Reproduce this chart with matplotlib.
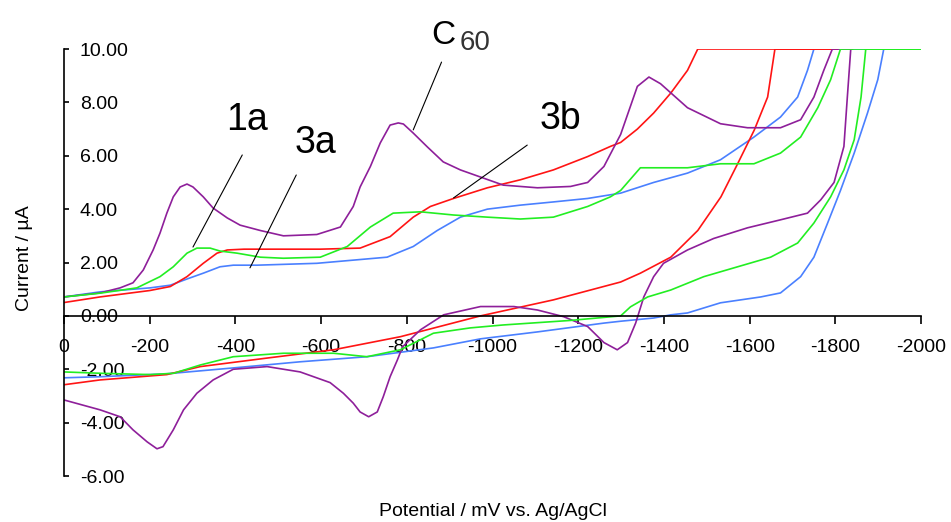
import matplotlib
matplotlib.use("Agg")
import matplotlib.pyplot as plt

plt.rcParams["font.family"] = ["Liberation Sans", "DejaVu Sans"]

# C60 (purple) - forward scan then return scan, current clipped at 10 uA
c60_fwd_E = [0, -84, -131, -161, -185, -208, -224, -240, -255, -271, -287, -301, -325, -348,
             -381, -411, -458, -512, -590, -645, -675, -691, -715, -738, -761, -780, -792,
             -815, -848, -885, -925, -1025, -1105, -1182, -1222, -1260, -1299, -1338, -1365,
             -1392, -1455, -1532, -1595, -1672, -1719, -1750, -1773, -1793, -1840]
c60_fwd_I = [0.71, 0.86, 1.05, 1.24, 1.72, 2.47, 3.1, 3.85, 4.46, 4.83, 4.94, 4.83, 4.46, 4.04,
             3.67, 3.4, 3.2, 3.0, 3.05, 3.33, 4.1, 4.83, 5.6, 6.48, 7.15, 7.23, 7.19,
             6.85, 6.33, 5.77, 5.47, 4.9, 4.8, 4.85, 5.0, 5.6, 6.8, 8.6, 8.95,
             8.7, 7.8, 7.2, 7.05, 7.05, 7.35, 8.2, 9.2, 10, 10]
c60_rev_E = [-1840, -1836, -1828, -1820, -1797, -1766, -1735, -1672, -1595, -1516, -1455, -1399,
             -1376, -1353, -1334, -1315, -1291, -1260, -1222, -1166, -1105, -1050, -972, -886,
             -832, -790, -778, -761, -745, -731, -711, -691, -675, -652, -621, -551, -474,
             -395, -348, -310, -279, -255, -231, -217, -194, -161, -131, -84, 0]
c60_rev_I = [10, 10, 8.2, 6.35, 5.0, 4.35, 3.85, 3.6, 3.3, 2.9, 2.47, 1.97,
             1.47, 0.71, -0.27, -1.0, -1.27, -1.0, -0.4, -0.03, 0.22, 0.35, 0.35, 0.04,
             -0.52, -1.16, -1.65, -2.28, -3.03, -3.6, -3.78, -3.6, -3.27, -2.9, -2.5, -2.1, -1.9,
             -2.0, -2.4, -2.9, -3.52, -4.27, -4.9, -4.98, -4.72, -4.27, -3.78, -3.52, -3.15]

# 1a (green)
g1a_fwd_E = [0, -84, -170, -224, -255, -287, -310, -341, -364, -404, -458, -512, -598, -661,
             -715, -768, -832, -909, -988, -1065, -1142, -1222, -1275, -1299, -1345, -1455,
             -1532, -1610, -1672, -1719, -1759, -1789, -1812, -2000]
g1a_fwd_I = [0.71, 0.85, 1.05, 1.47, 1.84, 2.35, 2.54, 2.54, 2.43, 2.35, 2.2, 2.16, 2.2, 2.6,
             3.33, 3.85, 3.9, 3.78, 3.7, 3.63, 3.7, 4.1, 4.46, 4.7, 5.55, 5.55,
             5.7, 5.7, 6.1, 6.7, 7.8, 8.85, 10, 10]
g1a_rev_E = [-2000, -1871, -1860, -1844, -1820, -1789, -1750, -1712, -1649, -1572, -1493, -1416,
             -1362, -1322, -1299, -1182, -1025, -948, -862, -785, -707, -629, -512, -395,
             -318, -256, -201, -84, 0]
g1a_rev_I = [10, 10, 8.2, 6.6, 5.47, 4.46, 3.48, 2.73, 2.2, 1.84, 1.47, 0.97,
             0.71, 0.34, 0.0, -0.17, -0.34, -0.45, -0.65, -1.27, -1.53, -1.4, -1.4, -1.53,
             -1.84, -2.15, -2.2, -2.15, -2.1]

# 3a (blue)
b3a_fwd_E = [0, -84, -201, -248, -290, -325, -364, -395, -450, -590, -754, -815, -871, -925,
             -988, -1065, -1142, -1222, -1299, -1376, -1455, -1532, -1610, -1672, -1712, -1735,
             -1750, -1913]
b3a_fwd_I = [0.71, 0.9, 1.05, 1.15, 1.4, 1.6, 1.84, 1.9, 1.9, 1.97, 2.2, 2.6, 3.2, 3.7,
             4.0, 4.15, 4.27, 4.4, 4.6, 5.0, 5.35, 5.85, 6.7, 7.45, 8.2, 9.2,
             10, 10]
b3a_rev_E = [-1913, -1899, -1875, -1844, -1812, -1782, -1750, -1719, -1672, -1626, -1532, -1455,
             -1416, -1376, -1299, -1260, -1105, -972, -862, -707, -551, -395, -240, -84, 0]
b3a_rev_I = [10, 8.85, 7.6, 6.1, 4.7, 3.48, 2.2, 1.47, 0.86, 0.71, 0.49, 0.11,
             0.04, -0.08, -0.2, -0.27, -0.6, -0.86, -1.2, -1.53, -1.72, -1.95, -2.17, -2.28, -2.32]

# 3b (red)
r3b_fwd_E = [0, -84, -200, -248, -287, -325, -357, -381, -420, -598, -691, -761, -815, -855,
             -909, -988, -1065, -1142, -1222, -1275, -1299, -1338, -1376, -1416, -1455, -1479,
             -1805]
r3b_fwd_I = [0.5, 0.71, 0.95, 1.1, 1.47, 1.97, 2.35, 2.47, 2.5, 2.5, 2.54, 2.97, 3.7, 4.1,
             4.4, 4.8, 5.1, 5.47, 5.97, 6.35, 6.5, 7.0, 7.6, 8.35, 9.2, 10,
             10]
r3b_rev_E = [-1805, -1659, -1642, -1611, -1572, -1533, -1479, -1416, -1345, -1299, -1142, -972,
             -785, -629, -474, -318, -240, -84, 0]
r3b_rev_I = [10, 10, 8.2, 6.97, 5.7, 4.46, 3.2, 2.2, 1.6, 1.27, 0.6, 0.0,
             -0.78, -1.27, -1.58, -1.9, -2.2, -2.4, -2.58]

y_ticks = [-6, -4, -2, 0, 2, 4, 6, 8, 10]
x_ticks = [0, -200, -400, -600, -800, -1000, -1200, -1400, -1600, -1800, -2000]


def draw_cv(ax, fwd_E, fwd_I, rev_E, rev_I, color):
    ax.plot(fwd_E + rev_E, fwd_I + rev_I, color=color, lw=1.2, solid_joinstyle="round")


def main():
    fig = plt.figure(figsize=(9.51, 5.22), dpi=100)
    ax = fig.add_axes([0.0673, 0.0881, 0.9012, 0.818])

    # drawing order matters for the clipped top line
    draw_cv(ax, b3a_fwd_E, b3a_fwd_I, b3a_rev_E, b3a_rev_I, "#4a80ff")
    draw_cv(ax, r3b_fwd_E, r3b_fwd_I, r3b_rev_E, r3b_rev_I, "#ff1414")
    draw_cv(ax, c60_fwd_E, c60_fwd_I, c60_rev_E, c60_rev_I, "#8e1f9a")
    draw_cv(ax, g1a_fwd_E, g1a_fwd_I, g1a_rev_E, g1a_rev_I, "#22ee22")

    ax.set_xlim(0, -2000)
    ax.set_ylim(-6, 10)
    ax.spines["top"].set_visible(False)
    ax.spines["right"].set_visible(False)
    ax.spines["bottom"].set_position(("data", 0))
    ax.spines["left"].set_linewidth(1.2)
    ax.spines["bottom"].set_linewidth(1.2)

    ax.set_xticks(x_ticks)
    ax.set_xticklabels([str(v) for v in x_ticks])
    ax.set_yticks(y_ticks)
    ax.set_yticklabels([f"{v:.2f}" for v in y_ticks])
    ax.tick_params(axis="x", direction="out", length=5.8, width=1.2, pad=11, labelsize=14)
    ax.tick_params(axis="y", direction="in", length=3.6, width=1.2, pad=-11.5, labelsize=14)
    for lbl in ax.get_yticklabels():
        lbl.set_horizontalalignment("left")

    fig.text(0.518, 0.021, "Potential / mV vs. Ag/AgCl", ha="center", va="center", fontsize=14)
    fig.text(0.026, 0.505, "Current / \u00b5A", ha="center", va="center", rotation=90, fontsize=14)

    # leader lines and compound labels
    leaders = [((-301, 2.58), (-416, 6.03)),
               ((-434, 1.80), (-542, 5.28)),
               ((-815, 6.97), (-881, 9.51)),
               ((-909, 4.42), (-1081, 6.40))]
    for tip, start in leaders:
        ax.annotate("", xy=tip, xytext=start,
                    arrowprops=dict(arrowstyle="-", color="black", lw=0.8, shrinkA=0, shrinkB=0))

    ax.text(-427, 7.34, "1a", ha="center", va="center", fontsize=27)
    ax.text(-586, 6.48, "3a", ha="center", va="center", fontsize=27)
    ax.text(-1159, 7.38, "3b", ha="center", va="center", fontsize=27)
    ax.text(-885, 10.49, "C", ha="center", va="center", fontsize=24, clip_on=False)
    ax.text(-960, 10.22, "60", ha="center", va="center", fontsize=20, color="#333333", clip_on=False)

    fig.savefig("out.png", dpi=100)


if __name__ == "__main__":
    main()
